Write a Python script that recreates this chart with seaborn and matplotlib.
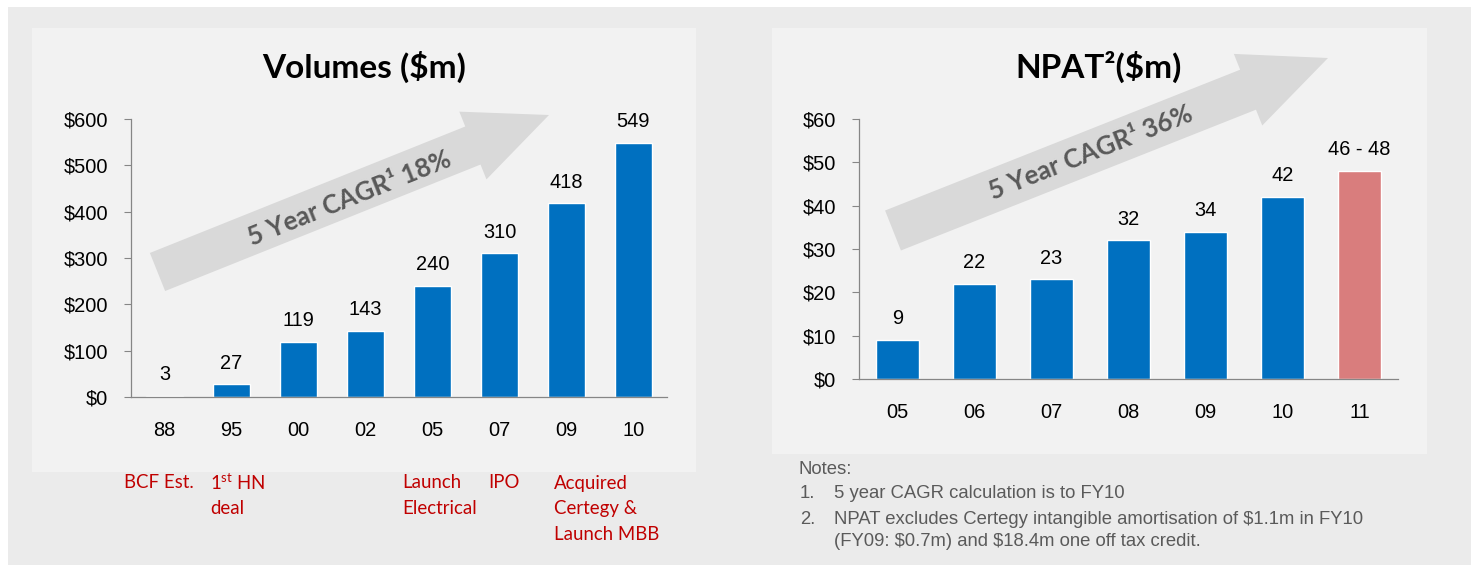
import matplotlib
matplotlib.use("Agg")
import matplotlib.pyplot as plt
import matplotlib.patches as mpatches
import numpy as np
import pandas as pd
import seaborn as sns

# ---------------- data ----------------
vol_years = ["88", "95", "00", "02", "05", "07", "09", "10"]
vol_values = [3, 27, 119, 143, 240, 310, 418, 549]
vol_labels = ["3", "27", "119", "143", "240", "310", "418", "549"]
vol_ticks = [0, 100, 200, 300, 400, 500, 600]
vol_ticklabels = ["$0", "$100", "$200", "$300", "$400", "$500", "$600"]

npat_years = ["05", "06", "07", "08", "09", "10", "11"]
npat_values = [9, 22, 23, 32, 34, 42, 48]
npat_labels = ["9", "22", "23", "32", "34", "42", "46 - 48"]
npat_ticks = [0, 10, 20, 30, 40, 50, 60]
npat_ticklabels = ["$0", "$10", "$20", "$30", "$40", "$50", "$60"]

vol_title = "Volumes ($m)"
npat_title = "NPAT\u00b2($m)"
vol_cagr = "5 Year CAGR\u00b9 18%"
npat_cagr = "5 Year CAGR\u00b9 36%"

milestones = [
    ["BCF Est."],
    ["1$^{\\mathrm{st}}$ HN", "deal"],
    ["Launch", "Electrical"],
    ["IPO"],
    ["Acquired", "Certegy &", "Launch MBB"],
]
notes = [
    ("", "Notes:"),
    ("1.", "5 year CAGR calculation is to FY10"),
    ("2.", "NPAT excludes Certegy intangible amortisation of $1.1m in FY10"),
    ("", "(FY09: $0.7m) and $18.4m one off tax credit."),
]

# ---------------- style ----------------
BLUE = "#0070C0"
SALMON = "#D97D7D"
AXIS = "#868686"
RED = "#C00000"
NOTE = "#5A5A5A"
ARROW = "#D9D9D9"
ARROW_TXT = "#595959"

sns.set_theme(style="white")
plt.rcParams["font.family"] = ["Liberation Sans", "DejaVu Sans"]
plt.rcParams["mathtext.fontset"] = "custom"
plt.rcParams["mathtext.rm"] = "Lato"
plt.rcParams["mathtext.it"] = "Lato:italic"
plt.rcParams["mathtext.bf"] = "Lato:bold"

W, H = 1471, 565
fig = plt.figure(figsize=(W / 100, H / 100), dpi=100, facecolor="white")

# background / decoration layer in pixel coordinates
bg = fig.add_axes([0, 0, 1, 1], zorder=0)
bg.set_xlim(0, W)
bg.set_ylim(H, 0)
bg.axis("off")
bg.add_patch(mpatches.Rectangle((8, 7), W - 8, H - 7, facecolor="#EBEBEB", edgecolor="none"))
bg.add_patch(mpatches.Rectangle((32, 28), 664, 444, facecolor="#F2F2F2", edgecolor="none"))
bg.add_patch(mpatches.Rectangle((772, 28), 655, 426, facecolor="#F2F2F2", edgecolor="none"))

# growth arrows
bg.add_patch(mpatches.FancyArrow(157.5, 272, 549 - 157.5, 115 - 272, width=41, head_width=73,
                                 head_length=82, length_includes_head=True,
                                 facecolor=ARROW, edgecolor="none"))
bg.add_patch(mpatches.FancyArrow(893, 230.5, 1328 - 893, 58 - 230.5, width=43, head_width=77,
                                 head_length=86, length_includes_head=True,
                                 facecolor=ARROW, edgecolor="none"))
bg.text(350, 198, vol_cagr, rotation=21.8, rotation_mode="anchor", ha="center", va="center",
        fontsize=18.5, fontweight="bold", color=ARROW_TXT, family=["Lato", "DejaVu Sans"])
bg.text(1091, 153, npat_cagr, rotation=21.6, rotation_mode="anchor", ha="center", va="center",
        fontsize=18.5, fontweight="bold", color=ARROW_TXT, family=["Lato", "DejaVu Sans"])

# titles
bg.text(364, 67, vol_title, ha="center", va="center", fontsize=24, fontweight="bold",
        color="black", family=["Lato", "DejaVu Sans"])
bg.text(1099, 67, npat_title, ha="center", va="center", fontsize=24, fontweight="bold",
        color="black", family=["Lato", "DejaVu Sans"])

# milestone annotations
ms_x = [124, 210, 402, 488, 554]
ms_y = [483, 508.5, 534]
for x, lines in zip(ms_x, milestones):
    for i, line in enumerate(lines):
        bg.text(x, ms_y[i], line, ha="left", va="center", fontsize=13.4, color=RED,
                family=["Lato", "DejaVu Sans"])

# notes
note_y = [469, 494, 519, 541]
for (num, line), y in zip(notes, note_y):
    if num:
        bg.text(800, y, num, ha="left", va="center", fontsize=13.3, color=NOTE, parse_math=False)
    x = 799 if line == "Notes:" else 834
    bg.text(x, y, line, ha="left", va="center", fontsize=13.3, color=NOTE, parse_math=False)


def style_axes(ax, n, ticks, ticklabels, ymax):
    ax.set_facecolor("none")
    ax.set_xlim(-0.5, n - 0.5)
    ax.set_ylim(0, ymax)
    ax.set_yticks(ticks)
    ax.set_yticklabels(ticklabels, fontsize=14.4, color="black")
    ax.set_xticks(np.arange(n + 1) - 0.5, minor=True)
    ax.tick_params(axis="x", which="major", length=0, pad=17, labelsize=14.4, labelcolor="black")
    ax.tick_params(axis="x", which="minor", length=4.5, width=0.8, color=AXIS, direction="out")
    ax.tick_params(axis="y", which="major", length=5, width=0.8, color=AXIS, direction="out",
                   pad=11.5, left=True)
    for s in ["top", "right"]:
        ax.spines[s].set_visible(False)
    for s in ["left", "bottom"]:
        ax.spines[s].set_visible(True)
        ax.spines[s].set_color(AXIS)
        ax.spines[s].set_linewidth(0.9)
    ax.set_xlabel("")
    ax.set_ylabel("")


# ---------------- Volumes chart ----------------
ax1 = fig.add_axes([131 / W, 1 - 397 / H, 536 / W, 278 / H], zorder=1)
df1 = pd.DataFrame({"year": vol_years, "value": vol_values})
sns.barplot(data=df1, x="year", y="value", order=vol_years, color=BLUE, saturation=1,
            width=0.54, ax=ax1)
style_axes(ax1, len(vol_years), vol_ticks, vol_ticklabels, 600)
ax1.bar_label(ax1.containers[0], labels=vol_labels, padding=8.5, fontsize=14.4, color="black")

# ---------------- NPAT chart ----------------
ax2 = fig.add_axes([859 / W, 1 - 379 / H, 539 / W, 260 / H], zorder=1)
df2 = pd.DataFrame({"year": npat_years, "value": npat_values})
npat_palette = [BLUE] * (len(npat_years) - 1) + [SALMON]
sns.barplot(data=df2, x="year", y="value", order=npat_years, hue="year", hue_order=npat_years,
            palette=npat_palette, saturation=1, width=0.56, legend=False, ax=ax2)
style_axes(ax2, len(npat_years), npat_ticks, npat_ticklabels, 60)
bars = [c for cont in ax2.containers for c in cont]
for b, lab in zip(bars, npat_labels):
    ax2.annotate(lab, (b.get_x() + b.get_width() / 2, b.get_height()), xytext=(0, 8.5),
                 textcoords="offset points", ha="center", va="bottom", fontsize=14.4, color="black")

fig.savefig("out.png", dpi=100, facecolor="white")
